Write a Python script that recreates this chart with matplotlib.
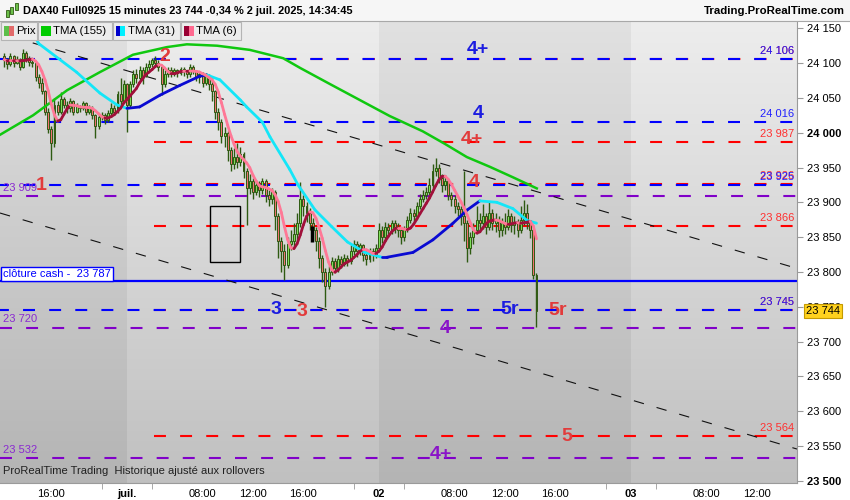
import numpy as np
import pandas as pd
import matplotlib
matplotlib.use('Agg')
import matplotlib.pyplot as plt
from matplotlib.collections import LineCollection
from matplotlib.patches import Rectangle

plt.rcParams['font.family'] = ['Liberation Sans', 'DejaVu Sans']
plt.rcParams['lines.scale_dashes'] = False

W, H = 850, 500

# 15 min bars, bar 0 = 30 juin 12:00, session 02:00-22:00 -> 80 bars a day
first_open = 24110
closes_jun30 = [24105, 24098, 24110, 24100, 24106, 24095, 24115, 24108, 24102, 24100,
                24080, 24072, 24060, 24030, 24005, 23985, 24040, 24030, 24048, 24040,
                24035, 24045, 24030, 24038, 24035, 24042, 24030, 24036, 24025, 24010,
                24022, 24026, 24018, 24028, 24035, 24030, 24055, 24045, 24070]
highs_jun30 = [24115, 24108, 24114, 24112, 24110, 24108, 24120, 24117, 24110, 24106,
               24102, 24085, 24078, 24062, 24035, 24010, 24050, 24045, 24058, 24052,
               24045, 24050, 24047, 24042, 24040, 24046, 24044, 24040, 24038, 24027,
               24025, 24030, 24028, 24032, 24042, 24040, 24060, 24078, 24076]
lows_jun30 = [24095, 24092, 24096, 24095, 24098, 24090, 24093, 24102, 24096, 24094,
              24075, 24064, 24055, 24025, 24000, 23961, 23980, 24025, 24027, 24035,
              24028, 24030, 24025, 24028, 24030, 24032, 24026, 24027, 24020, 23992,
              24005, 24018, 24012, 24015, 24024, 24025, 24028, 24040, 24042]

closes_jul1 = [24040, 24070, 24085, 24078, 24090, 24082, 24095, 24098, 24105, 24100,
               24094, 24070, 24085, 24090, 24085, 24090, 24086, 24092, 24088, 24084,
               24094, 24088, 24080, 24085, 24072, 24082, 24070, 24060, 24030, 24015,
               23995, 24000, 23975, 23955, 23965, 23958, 23970, 23945, 23920, 23930,
               23915, 23925, 23918, 23930, 23910, 23905, 23915, 23880, 23845, 23830,
               23810, 23840, 23845, 23855, 23870, 23905, 23895, 23885, 23870, 23860,
               23845, 23820, 23800, 23780, 23800, 23815, 23805, 23818, 23812, 23820,
               23815, 23830, 23840, 23830, 23838, 23825, 23818, 23830, 23825, 23835]
highs_jul1 = [24072, 24075, 24090, 24092, 24096, 24094, 24100, 24104, 24108, 24110,
              24104, 24096, 24090, 24094, 24094, 24093, 24092, 24095, 24094, 24090,
              24098, 24097, 24090, 24088, 24087, 24086, 24084, 24078, 24062, 24035,
              24020, 24008, 24002, 23980, 23978, 23985, 23980, 23972, 23950, 23940,
              23935, 23932, 23930, 23935, 23933, 23918, 23920, 23918, 23885, 23850,
              23840, 23850, 23860, 23870, 23885, 23929, 23910, 23900, 23892, 23878,
              23865, 23850, 23825, 23805, 23808, 23822, 23820, 23825, 23823, 23826,
              23825, 23838, 23846, 23844, 23842, 23840, 23830, 23835, 23834, 23840]
lows_jul1 = [24001, 24035, 24065, 24072, 24075, 24070, 24080, 24090, 24094, 24095,
             24088, 24054, 24066, 24080, 24080, 24082, 24080, 24083, 24082, 24078,
             24080, 24084, 24074, 24072, 24065, 24068, 24062, 24045, 24020, 24004,
             23985, 23980, 23960, 23945, 23948, 23950, 23952, 23935, 23867, 23912,
             23905, 23910, 23908, 23912, 23900, 23895, 23898, 23860, 23820, 23800,
             23789, 23805, 23832, 23835, 23845, 23865, 23880, 23872, 23860, 23845,
             23830, 23805, 23785, 23750, 23775, 23796, 23798, 23800, 23805, 23808,
             23808, 23812, 23825, 23822, 23824, 23815, 23810, 23814, 23816, 23820]

closes_jul2 = [23860, 23850, 23865, 23860, 23870, 23865, 23860, 23850, 23862, 23875,
               23885, 23880, 23895, 23905, 23910, 23915, 23925, 23945, 23950, 23935,
               23925, 23930, 23910, 23905, 23895, 23890, 23880, 23870, 23835, 23850,
               23860, 23875, 23870, 23880, 23865, 23885, 23870, 23875, 23860, 23870,
               23865, 23880, 23868, 23872, 23860, 23875, 23885, 23870, 23860, 23795,
               23744]
highs_jul2 = [23870, 23866, 23872, 23870, 23875, 23874, 23870, 23862, 23866, 23880,
              23892, 23890, 23900, 23912, 23918, 23922, 23935, 23955, 23964, 23955,
              23940, 23938, 23933, 23915, 23910, 23900, 23895, 23945, 23875, 23858,
              23870, 23895, 23885, 23898, 23885, 23900, 23890, 23885, 23880, 23878,
              23885, 23890, 23885, 23880, 23876, 23895, 23903, 23898, 23875, 23862,
              23798]
lows_jul2 = [23830, 23842, 23846, 23852, 23855, 23856, 23850, 23840, 23845, 23858,
             23870, 23872, 23876, 23890, 23900, 23905, 23910, 23920, 23938, 23928,
             23915, 23918, 23903, 23895, 23885, 23880, 23868, 23845, 23814, 23826,
             23840, 23855, 23858, 23862, 23855, 23860, 23860, 23858, 23850, 23852,
             23855, 23860, 23858, 23855, 23850, 23856, 23868, 23862, 23848, 23790,
             23721]

# TMA (31) and TMA (155) (bar, value)
tma31_bar = [9, 12, 24, 31.4, 36.8, 40, 44, 50.5, 56.8, 63, 65.4, 69.5, 76, 78, 83, 85.4,
             91.7, 94.3, 99.7, 105, 110, 115.5, 120.9, 122.5, 130.8, 137.1, 143.5, 148,
             152, 157.4, 162.5, 167, 170]
tma31_val = [24152, 24128, 24087, 24057, 24040, 24035, 24037, 24054, 24068, 24081, 24083,
             24076, 24047, 24037, 24015, 23994, 23947, 23925, 23889, 23865, 23843, 23828,
             23821, 23821, 23828, 23846, 23870, 23889, 23902, 23900, 23891, 23874, 23870]
tma155_bar = [-0.3, 10.2, 21, 31.4, 41.9, 52.7, 59, 68.6, 79, 89.6, 95, 104.4, 113.9,
              123.4, 133.9, 140.9, 147.9, 155.2, 162.5, 170.1]
tma155_val = [23997, 24025, 24061, 24087, 24112, 24123, 24127, 24125, 24119, 24107,
              24093, 24070, 24047, 24024, 24002, 23984, 23965, 23951, 23936, 23920]

# levels
blue_levels = [24106, 24016, 23925, 23745]
blue_texts = ['24 106', '24 016', '23 925', '23 745']
red_levels = [24106, 23987, 23926, 23866, 23745, 23564]
red_texts = ['24 106', '23 987', '23 926', '23 866', '23 745', '23 564']
red_start = 48.5
purple_levels = [23909, 23720, 23532]
purple_texts = ['23 909', '23 720', '23 532']
cash_close = 23787
last_price = 23744

# black dashed channel (bar, price)
channel_up = [(2.9, 24138.6), (252.7, 23805)]
channel_dn = [(-0.3, 23884.6), (252.7, 23545.5)]
box = [66.35, 75.9, 23814, 23894.7]

# wave labels: text, bar, price, colour
wave_labels = [('1', 12.8, 23924, '#e23b3b'), ('2', 52.1, 24110, '#e23b3b'),
               ('3', 87.3, 23746, '#1c1ce0'), ('3', 95.5, 23743, '#e23b3b'),
               ('4+', 151.4, 24119, '#1c1ce0'), ('4', 151.4, 24027, '#1c1ce0'),
               ('4+', 149.5, 23990, '#e23b3b'), ('4', 150.1, 23929, '#e23b3b'),
               ('5r', 161.5, 23746, '#1c1ce0'), ('5r', 176.8, 23745, '#e23b3b'),
               ('4', 140.9, 23718, '#8a14c8'), ('5', 179.7, 23564, '#e23b3b'),
               ('4+', 139.7, 23538, '#8a14c8')]

xtick_pos = [16, 40, 64, 80, 96, 120, 144, 160, 176, 200, 224, 240]
xtick_lab = ['16:00', 'juil.', '08:00', '12:00', '16:00', '02', '08:00', '12:00', '16:00',
             '03', '08:00', '12:00']
minor_pos = [32, 40, 48, 112, 120, 128, 192, 200, 208]
day_edges = [-0.3, 40, 120, 200, 252.7]

XMIN, XMAX = -0.3, 252.7
YMIN, YMAX = 23496.7, 24160.5

closes = closes_jun30 + closes_jul1 + closes_jul2
highs = highs_jun30 + highs_jul1 + highs_jul2
lows = lows_jun30 + lows_jul1 + lows_jul2
bars = np.arange(1, len(closes) + 1)
opens = [first_open] + closes[:-1]
df = pd.DataFrame({'o': opens, 'h': highs, 'l': lows, 'c': closes}, index=bars)

fig = plt.figure(figsize=(W / 100, H / 100), dpi=100)
fig.patch.set_facecolor('white')
ax = fig.add_axes([0, 17 / H, 797 / W, 462 / H])
ax.set_xlim(XMIN, XMAX)
ax.set_ylim(YMIN, YMAX)

# day bands with vertical gradient
for k in range(len(day_edges) - 1):
    if k % 2 == 0:
        top, bot = np.array([225, 225, 225]), np.array([180, 180, 180])
    else:
        top, bot = np.array([237, 237, 237]), np.array([192, 192, 192])
    t = np.linspace(0, 1, 200)[:, None, None]
    grad = (top * (1 - t) + bot * t) / 255.0
    ax.imshow(grad, extent=(day_edges[k], day_edges[k + 1], YMIN, YMAX), aspect='auto',
              origin='upper', interpolation='bilinear', zorder=0)

# horizontal levels
dash = (0, (8.6, 10.2))
for lv in purple_levels:
    ax.hlines(lv, XMIN, XMAX, colors='#8000c8', lw=1.5, linestyles=[dash], zorder=2)
for lv in red_levels:
    ax.hlines(lv, red_start, XMAX, colors='#ff0000', lw=1.5, linestyles=[dash], zorder=2)
for lv in blue_levels:
    ax.hlines(lv, XMIN, XMAX, colors='#0000ff', lw=1.5, linestyles=[(2.2, (8.6, 10.2))], zorder=2)
ax.axhline(cash_close, color='#0000ff', lw=1.6, zorder=2)

# channel and box
for seg in (channel_up, channel_dn):
    ax.plot([seg[0][0], seg[1][0]], [seg[0][1], seg[1][1]], color='#111111', lw=0.8,
            ls=(0, (7.5, 9.5)), zorder=2)
ax.add_patch(Rectangle((box[0], box[2]), box[1] - box[0], box[3] - box[2], fill=False,
                       ec='black', lw=1, zorder=3))

# candles
up = df.c >= df.o
ax.vlines(df.index, df.l, df.h, color='#2e5a12', lw=1, zorder=4)
body_h = (df.c - df.o).abs().clip(lower=1.2)
ax.bar(df.index, body_h, bottom=df[['o', 'c']].min(axis=1), width=0.62,
       color=np.where(up, '#7ee05a', '#f07272'), edgecolor='#2e5a12', linewidth=0.7, zorder=5)
ax.vlines(98.9, 23843, 23866, color='black', lw=2.5, zorder=6)


def slope_line(xs, ys, c_up, c_dn, lw, z):
    xs = np.asarray(xs, float)
    ys = np.asarray(ys, float)
    segs = np.stack([np.column_stack([xs[:-1], ys[:-1]]), np.column_stack([xs[1:], ys[1:]])], axis=1)
    cols = [c_up if d >= 0 else c_dn for d in np.diff(ys)]
    ax.add_collection(LineCollection(segs, colors=cols, linewidths=lw, zorder=z, capstyle='round'))


ax.plot(tma155_bar, tma155_val, color='#10c810', lw=1.8, zorder=6)
slope_line(tma31_bar, tma31_val, '#0a0ad2', '#14e6f8', 2.0, 6)
tma6 = df.c.rolling(3, min_periods=1).mean().rolling(4, min_periods=1).mean()
slope_line(tma6.index, tma6.values, '#a0103a', '#ff7896', 2.0, 7)

# level value labels
for lv, tx in zip(red_levels, red_texts):
    ax.annotate(tx, xy=(1, lv), xycoords=('axes fraction', 'data'), xytext=(-2, 5.6),
                textcoords='offset points', ha='right', va='center', fontsize=8,
                color='#ff3030', zorder=8)
for lv, tx in zip(blue_levels, blue_texts):
    ax.annotate(tx, xy=(1, lv), xycoords=('axes fraction', 'data'), xytext=(-2, 5.6),
                textcoords='offset points', ha='right', va='center', fontsize=8,
                color='#2020ff', zorder=8)
for lv, tx in zip(purple_levels, purple_texts):
    ax.annotate(tx, xy=(0, lv), xycoords=('axes fraction', 'data'), xytext=(2, 6),
                textcoords='offset points', ha='left', va='center', fontsize=8,
                color='#8a2ad0', zorder=8)
ax.annotate('clôture cash -  23 787', xy=(0, cash_close), xycoords=('axes fraction', 'data'),
            xytext=(2.5, 5.2), textcoords='offset points', ha='left', va='center', fontsize=8,
            color='#0000ff', zorder=9,
            bbox=dict(boxstyle='square,pad=0.18', fc='white', ec='#0000ff', lw=1))

for tx, bx, py, col in wave_labels:
    ax.text(bx, py, tx, color=col, fontsize=14, fontweight='bold', ha='center', va='center',
            zorder=9)

ax.text(0.004, 0.015, 'ProRealTime Trading  Historique ajusté aux rollovers', transform=ax.transAxes,
        fontsize=8, color='#202020', ha='left', va='bottom', zorder=9)

# axes
for s in ['top', 'left']:
    ax.spines[s].set_visible(False)
ax.spines['right'].set_color('#9a9a9a')
ax.spines['bottom'].set_color('#9a9a9a')
ax.yaxis.tick_right()
yt = np.arange(23500, 24151, 50)
ax.set_yticks(yt)
ax.set_yticklabels([f'{v:,}'.replace(',', ' ') for v in yt], fontsize=8)
for lab, v in zip(ax.get_yticklabels(), yt):
    if v in (24000, 23500):
        lab.set_fontweight('bold')
ax.tick_params(axis='y', length=4, color='#9a9a9a', pad=3)
ax.set_xticks(xtick_pos)
ax.set_xticklabels(xtick_lab, fontsize=8)
for lab in ax.get_xticklabels():
    if lab.get_text() in ('juil.', '02', '03'):
        lab.set_fontweight('bold')
ax.tick_params(axis='x', length=0, pad=4)
ax.set_xticks(minor_pos, minor=True)
ax.tick_params(axis='x', which='minor', length=4, color='#9a9a9a')

ax.annotate(f'{last_price:,}'.replace(',', ' '), xy=(1, last_price), xycoords=('axes fraction', 'data'),
            xytext=(6.5, 0), textcoords='offset points', ha='left', va='center', fontsize=8,
            color='black', zorder=10, annotation_clip=False,
            bbox=dict(boxstyle='square,pad=0.2', fc='#ffd21e', ec='#c49a00', lw=0.8))

# header
fig.add_artist(Rectangle((0, 1 - 21 / H), 1, 21 / H, transform=fig.transFigure,
                         fc='#f6f6f6', ec='none', zorder=1))
fig.add_artist(plt.Line2D([0, 1], [1 - 21 / H] * 2, transform=fig.transFigure,
                          color='#a8a8a8', lw=0.8, zorder=2))
for cx, y0, y1 in [(7, 10, 17), (11.5, 7, 14), (16, 3, 10)]:
    fig.add_artist(Rectangle(((cx - 1.5) / W, 1 - y1 / H), 3 / W, (y1 - y0) / H,
                             transform=fig.transFigure, fc='#6cc04a', ec='#2e5a12', lw=0.6, zorder=3))
fig.text(23 / W, 1 - 11.5 / H, 'DAX40 Full0925 15 minutes 23 744 -0,34 % 2 juil. 2025, 14:34:45',
         fontsize=7.9, fontweight='bold', ha='left', va='center', zorder=3)
fig.text(845 / W, 1 - 11.5 / H, 'Trading.ProRealTime.com', fontsize=8.2, fontweight='bold',
         ha='right', va='center', zorder=3)

# indicator legend
legend_items = [('Prix', ['#5cbf4a', '#e26a6a'], 1, 37), ('TMA (155)', ['#00cc00'], 38, 112),
                ('TMA (31)', ['#0000cc', '#00f0ff'], 113, 180), ('TMA (6)', ['#990033', '#ff6a90'], 181, 241)]
for name, cols, x0, x1 in legend_items:
    fig.add_artist(Rectangle((x0 / W, 1 - 40 / H), (x1 - x0) / W, 18 / H, transform=fig.transFigure,
                             fc='#ececec', ec='#b4b4b4', lw=0.8, zorder=4))
    wpart = 10 / len(cols)
    for j, c in enumerate(cols):
        fig.add_artist(Rectangle(((x0 + 2.5 + j * wpart) / W, 1 - 36 / H), wpart / W, 10 / H,
                                 transform=fig.transFigure, fc=c, ec='none', zorder=5))
    fig.text((x0 + 15) / W, 1 - 31 / H, name, fontsize=8.2, ha='left', va='center', zorder=5)

fig.savefig('out.png', dpi=100)
